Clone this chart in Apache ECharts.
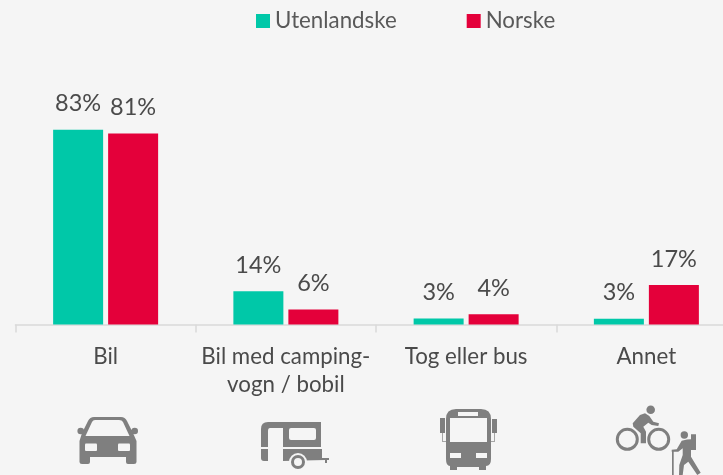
<!DOCTYPE html>
<html><head><meta charset="utf-8">
<script src="https://cdn.jsdelivr.net/npm/echarts@6/dist/echarts.min.js"></script>
<style>html,body{margin:0;padding:0;background:#f5f5f5;overflow:hidden}#c{width:723px;height:475px}</style>
</head><body><div id="c"></div>
<script>
const categories = ['Bil', 'Bil med camping-\nvogn / bobil', 'Tog eller bus', 'Annet'];
const utenlandske = [83, 14.2, 2.6, 2.5];
const norske = [81.49, 6.4, 4.4, 16.8];
const FONT = 'Lato, sans-serif';
const GREY = '#7f7f7f', BG = '#f5f5f5';

const iconPaths = [
  // car
  [GREY, 'M94 417 L121 417 Q125 417 127 421 L133 433 L136.5 441 L136.5 462 Q136.5 464 134 464 L128 464 Q126 464 126 462 L126 457 L90 457 L90 462 Q90 464 88 464 L82 464 Q79.5 464 79.5 462 L79.5 441 L82 433 L88 421 Q90 417 94 417 Z'],
  [GREY, 'M80 429 L88 431 L88 434 L80 434 Z'],
  [GREY, 'M135 429 L127 431 L127 434 L135 434 Z'],
  [BG, 'M95 420 L119 420 Q122 420 123 422 L129.5 436 L85.5 436 L92 422 Q93 420 95 420 Z'],
  [BG, 'M86 443.5 L96 443.5 Q97 443.5 97 444.5 L97 450 Q97 451 96 451 L86 451 Q85 451 85 450 L85 444.5 Q85 443.5 86 443.5 Z'],
  [BG, 'M119 443.5 L129 443.5 Q130 443.5 130 444.5 L130 450 Q130 451 129 451 L119 451 Q118 451 118 450 L118 444.5 Q118 443.5 119 443.5 Z'],
  // caravan
  [GREY, 'M268 422 L321 422 L321 447 L283 447 L283 428 L270 428 Q268 428 268 431 L268 447 L261 447 L261 429 Q261 422 268 422 Z'],
  [BG, 'M291 428 L314 428 Q316 428 316 430 L316 438 Q316 440 314 440 L291 440 Q289 440 289 438 L289 430 Q289 428 291 428 Z'],
  [GREY, 'M261 449 L268 449 L268 461 L264 461 Q261 461 261 458 Z'],
  [GREY, 'M283 449 L322 449 L322 458 L329 458 L329 460 L327 460 L327 463 L325 463 L325 460 L283 461 Z'],
  // bus
  [GREY, 'M456 409 L481 409 Q491 409 491 419 L491 459 Q491 466 486 466 L486 470 L479 470 L479 467 L457 467 L457 470 L450 470 L450 466 Q446 466 446 459 L446 419 Q446 409 456 409 Z'],
  [BG, 'M458 412 L478 412 L478 416 L458 416 Z'],
  [BG, 'M450 418 L487 418 L487 442 L450 442 Z'],
  [BG, 'M450 453 L461 453 L461 458 L450 458 Z'],
  [BG, 'M476 453 L487 453 L487 458 L476 458 Z'],
  [GREY, 'M440 418 L445 418 L445 433 L440 433 Z'],
  [GREY, 'M492 419 L497 419 L497 433 L492 433 Z'],
  ['#a6a6a6', 'M442 433 L443 433 L443 441 L446 441 L446 442 L442 442 Z'],
  ['#a6a6a6', 'M494 433 L495 433 L495 442 L491 442 L491 441 L494 441 Z'],
  // cyclist
  [GREY, 'M632.7 423.3 L640 415 L645 413.3 L649.3 416 L653.3 421.7 L659 423.3 L658.3 426 L651.7 425 L648.3 422.7 L643.3 426.7 L646 431.7 L646 443.3 L640.7 443.3 L640.7 433.3 L633.3 426.7 Z'],
  // hiker
  [GREY, 'M681.7 440.7 L687 439.5 L691 439.3 L691 434.3 L696 434.3 L696 450 L691 450 L691 456.7 L700.7 472.7 L697.3 475 L688.3 461.7 L684 465 L682.7 475 L679 475 L679.3 465 L682.7 455 L682.7 448.3 L678.3 451.7 L671.7 451.7 L671.7 449.7 L676.7 449.3 Z'],
  [GREY, 'M672 451 L673.7 451 L673.7 475 L672 475 Z']
];
const iconCircles = [
  [80.7, 431, 3.3, GREY, null],
  [134.7, 431, 3.3, GREY, null],
  [650.7, 409.7, 4.3, GREY, null],
  [627.3, 439.3, 10, null, GREY],
  [658.7, 439.3, 10, null, GREY],
  [684.3, 435, 3.7, GREY, null],
  [298, 462, 9, BG, null],
  [298, 462, 5.5, BG, GREY]
];

function renderIcons() {
  const children = [];
  iconPaths.forEach(p => children.push({ type: 'path', shape: { pathData: p[1] }, style: { fill: p[0] } }));
  iconCircles.forEach(c => children.push({
    type: 'circle', shape: { cx: c[0], cy: c[1], r: c[2] },
    style: { fill: c[3] || 'none', stroke: c[4] || null, lineWidth: c[4] ? 3 : 0 }
  }));
  return { type: 'group', children };
}

const label = {
  show: true, position: 'top', distance: 14,
  formatter: p => Math.round(p.value) + '%',
  color: '#4a4a4a', fontFamily: FONT, fontSize: 23.5
};
const chart = echarts.init(document.getElementById('c'), null, { renderer: 'canvas' });
chart.setOption({
  backgroundColor: BG,
  animation: false,
  legend: {
    left: 251, top: 5, itemWidth: 14, itemHeight: 14, itemGap: 70, icon: 'rect',
    textStyle: { color: '#595959', fontFamily: FONT, fontSize: 22.3 },
    data: ['Utenlandske', 'Norske']
  },
  grid: { left: 15.5, width: 721, top: 90, height: 234.5, outerBoundsMode: 'none' },
  xAxis: {
    type: 'category', data: categories,
    axisLine: { lineStyle: { color: '#d9d9d9', width: 1.5 } },
    axisTick: { show: true, length: 8, alignWithLabel: false, lineStyle: { color: '#d9d9d9', width: 1.5 } },
    axisLabel: { color: '#4a4a4a', fontFamily: FONT, fontSize: 22.3, lineHeight: 28, margin: 18, interval: 0 }
  },
  yAxis: { type: 'value', min: 0, max: 100, show: false, splitLine: { show: false } },
  series: [
    { name: 'Utenlandske', type: 'bar', data: utenlandske, barWidth: 50, barGap: '10%', itemStyle: { color: '#00c8a8' }, label },
    { name: 'Norske', type: 'bar', data: norske, barWidth: 50, barGap: '10%', itemStyle: { color: '#e4003a' }, label },
    { name: 'icons', type: 'custom', coordinateSystem: 'none', silent: true, data: [0], renderItem: renderIcons }
  ]
});
</script></body></html>
